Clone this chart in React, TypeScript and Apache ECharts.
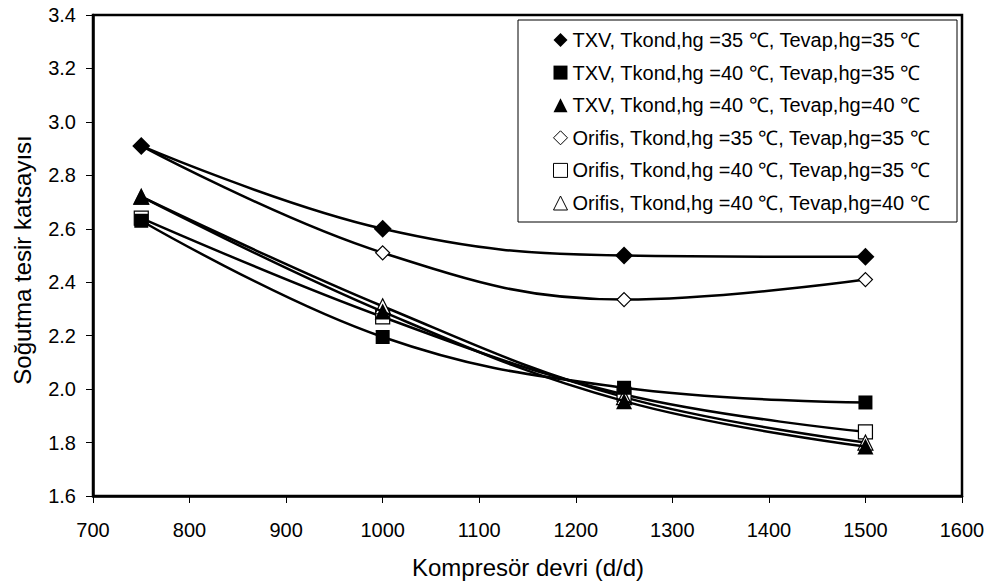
import React, { useEffect, useRef } from "react";
import * as echarts from "echarts";

const rpm = [750, 1000, 1250, 1500];
const txv3535 = [2.91, 2.6, 2.5, 2.495];
const txv4035 = [2.63, 2.195, 2.005, 1.95];
const txv4040 = [2.72, 2.29, 1.955, 1.785];
const ori3535 = [2.91, 2.51, 2.335, 2.41];
const ori4035 = [2.64, 2.27, 1.98, 1.84];
const ori4040 = [2.72, 2.31, 1.97, 1.8];

const names = [
  "TXV, Tkond,hg =35 ℃, Tevap,hg=35 ℃",
  "TXV, Tkond,hg =40 ℃, Tevap,hg=35 ℃",
  "TXV, Tkond,hg =40 ℃, Tevap,hg=40 ℃",
  "Orifis, Tkond,hg =35 ℃, Tevap,hg=35 ℃",
  "Orifis, Tkond,hg =40 ℃, Tevap,hg=35 ℃",
  "Orifis, Tkond,hg =40 ℃, Tevap,hg=40 ℃",
];
const values = [txv3535, txv4035, txv4040, ori3535, ori4035, ori4040];
const symbols = ["diamond", "rect", "triangle", "diamond", "rect", "triangle"];
const sizes = [18, 14, 16, 14, 14, 15];
const filled = [true, true, true, false, false, false];
const xTitle = "Kompresör devri (d/d)";
const yTitle = "Soğutma tesir katsayısı";

const FONT = "Liberation Sans, Arial, sans-serif";

export default function App() {
  const ref = useRef<HTMLDivElement>(null);
  useEffect(() => {
    const chart = echarts.init(ref.current!, null, { renderer: "svg" });
    const series = names.map((n, i) => ({
      name: n,
      type: "line",
      smooth: 0.4,
      data: rpm.map((x, j) => [x, values[i][j]]),
      symbol: symbols[i],
      symbolSize: sizes[i],
      showAllSymbol: true,
      z: filled[i] ? 4 : 3,
      lineStyle: { color: "#000", width: 2.5 },
      itemStyle: {
        color: filled[i] ? "#000" : "#fff",
        borderColor: "#000",
        borderWidth: filled[i] ? 0 : 1.2,
      },
    }));
    chart.setOption({
      animation: false,
      backgroundColor: "#fff",
      textStyle: { fontFamily: FONT },
      grid: {
        left: 93,
        top: 15,
        width: 869,
        height: 481,
        show: true,
        borderColor: "#000",
        borderWidth: 2.5,
      },
      graphic: [
        {
          type: "rect",
          shape: { x: 518, y: 20, width: 439, height: 202 },
          style: { fill: "#fff", stroke: "#000", lineWidth: 1 },
          z: 50,
        },
        {
          type: "text",
          x: 528,
          y: 567,
          style: {
            text: xTitle,
            fontFamily: FONT,
            fontSize: 24,
            fill: "#000",
            align: "center",
            verticalAlign: "middle",
          },
        },
        {
          type: "text",
          x: 22,
          y: 260,
          rotation: Math.PI / 2,
          style: {
            text: yTitle,
            fontFamily: FONT,
            fontSize: 24,
            fill: "#000",
            align: "center",
            verticalAlign: "middle",
          },
        },
      ],
      legend: {
        orient: "vertical",
        left: 553,
        top: 29,
        padding: 0,
        itemWidth: 14,
        itemHeight: 14,
        itemGap: 10.6,
        z: 60,
        textStyle: { fontFamily: FONT, fontSize: 20, lineHeight: 22, color: "#000" },
        data: names.map((n, i) => ({
          name: n,
          icon: symbols[i],
          itemStyle: {
            color: filled[i] ? "#000" : "#fff",
            borderColor: "#000",
            borderWidth: filled[i] ? 0 : 1,
          },
        })),
      },
      xAxis: {
        type: "value",
        min: 700,
        max: 1600,
        interval: 100,
        axisLine: { lineStyle: { color: "#000", width: 2.5 } },
        axisTick: { length: 7, lineStyle: { color: "#000" } },
        axisLabel: {
          color: "#000",
          fontSize: 20,
          margin: 24,
          fontFamily: FONT,
          formatter: (v: number) => String(v),
        },
        splitLine: { show: false },
      },
      yAxis: {
        type: "value",
        min: 1.6,
        max: 3.4,
        interval: 0.2,
        axisLine: { show: true, lineStyle: { color: "#000", width: 2.5 } },
        axisTick: { show: true, length: 7, lineStyle: { color: "#000" } },
        axisLabel: {
          color: "#000",
          fontSize: 20,
          margin: 17,
          fontFamily: FONT,
          formatter: (v: number) => v.toFixed(1),
        },
        splitLine: { show: false },
      },
      series,
    });
    return () => chart.dispose();
  }, []);
  return (
    <div
      ref={ref}
      style={{ position: "fixed", left: 0, top: 0, width: 997, height: 588 }}
    />
  );
}
